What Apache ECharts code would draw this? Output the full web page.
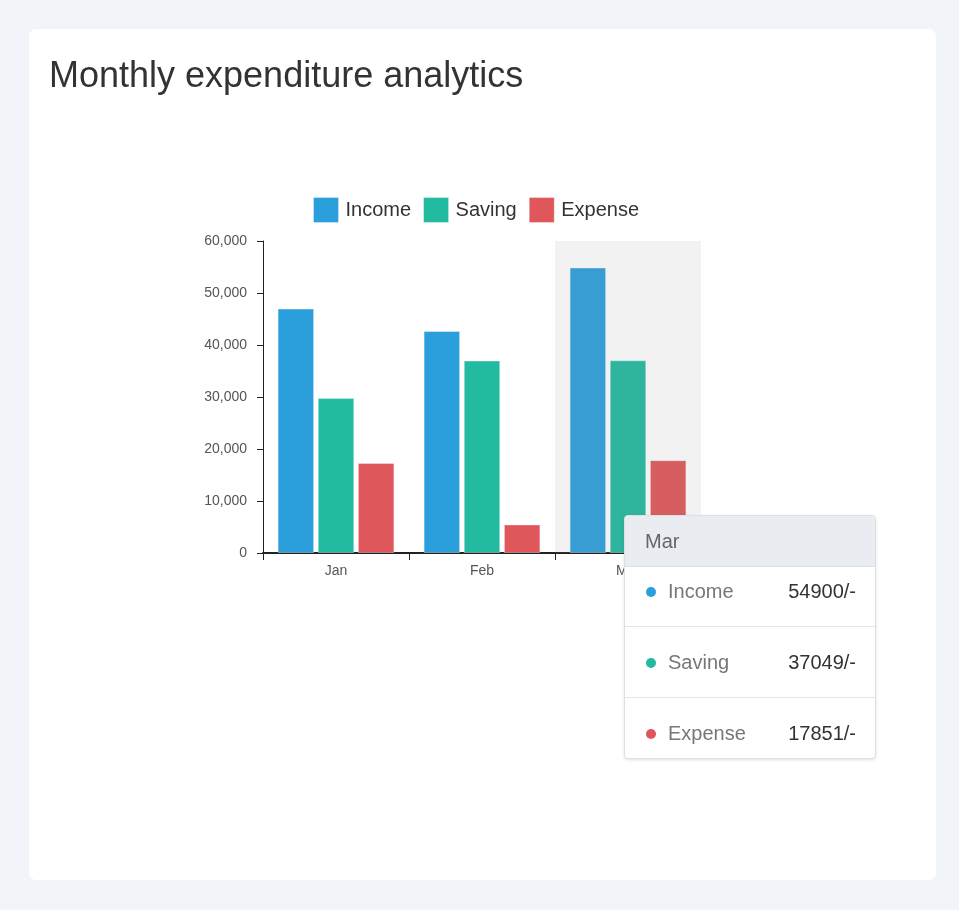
<!DOCTYPE html>
<html>
<head>
<meta charset="utf-8">
<script src="https://cdn.jsdelivr.net/npm/echarts@6/dist/echarts.min.js"></script>
<style>
  html, body { margin: 0; padding: 0; }
  body { width: 959px; height: 910px; background: #f1f4f9; font-family: 'Liberation Sans', Arial, sans-serif; }
  .card { position: absolute; left: 29px; top: 29px; width: 907px; height: 851px; background: #fff; border-radius: 7px; }
  .card h2 { position: absolute; left: 20px; top: 24px; margin: 0; font-size: 36px; font-weight: normal; color: #333; line-height: 44px; white-space: nowrap; }
  #chart { position: absolute; left: 0; top: 0; width: 907px; height: 851px; }
</style>
</head>
<body>
<div class="card">
  <div id="chart"></div>
  <h2>Monthly expenditure analytics</h2>
</div>
<script>
var months = ['Jan', 'Feb', 'Mar'];
var seriesNames = ['Income', 'Saving', 'Expense'];
var income = [47000, 42700, 54900];
var saving = [29800, 37000, 37049];
var expense = [17300, 5500, 17851];
var yTicks = [0, 10000, 20000, 30000, 40000, 50000, 60000];

var colors = ['#2b9fdb', '#22baa0', '#e0575b'];
var values = [income, saving, expense];

function makeSeries(i) {
    return {
        name: seriesNames[i],
        type: 'bar',
        data: values[i],
        barCategoryGap: '20%',
        barGap: '10%',
        itemStyle: {
            color: colors[i],
            borderColor: 'rgba(255,255,255,0.35)',
            borderWidth: 1
        },
        // the hover shadow sits over the bars, keep their own colour underneath
        emphasis: {
            itemStyle: { color: colors[i], borderColor: 'rgba(255,255,255,0.35)', borderWidth: 1 }
        }
    };
}

function tipHtml(params) {
    var html = '<div style="background:#e9ecf1;height:50px;line-height:50px;padding:0 20px;font-size:20px;color:#666;border-bottom:1px solid #dcdfe4;">'
        + params[0].axisValue + '</div>';
    for (var k = 0; k < params.length; k++) {
        var p = params[k];
        var pad = (k === 0 ? '14px' : '25px') + ' 19px ' + (k === params.length - 1 ? '15px' : '25px') + ' 21px';
        html += '<div style="padding:' + pad + ';line-height:20px;font-size:20px;'
            + (k < params.length - 1 ? 'border-bottom:1px solid #e3e5e9;' : '') + '">'
            + '<span style="display:inline-block;width:10px;height:10px;border-radius:5px;background:' + colors[p.seriesIndex] + ';margin-right:12px;vertical-align:1px;"></span>'
            + '<span style="color:#777;">' + p.seriesName + '</span>'
            + '<span style="float:right;color:#333;">' + p.value + '/-</span></div>';
    }
    return html;
}

var chart = echarts.init(document.getElementById('chart'));
var option = {
    animation: false,
    textStyle: { fontFamily: 'Liberation Sans, Arial, sans-serif' },
    legend: {
        data: seriesNames,
        icon: 'rect',
        left: 279,
        top: 163,
        itemWidth: 25,
        itemHeight: 25,
        itemGap: 12,
        itemStyle: { borderColor: 'rgba(255,255,255,0.35)', borderWidth: 1 },
        textStyle: { fontSize: 20, color: '#333', padding: [0, 0, 0, 2] }
    },
    tooltip: {
        trigger: 'axis',
        alwaysShowContent: true,
        axisPointer: { type: 'shadow', shadowStyle: { color: 'rgba(150,150,150,0.12)' } },
        position: function () { return [595, 486]; },
        padding: 0,
        borderWidth: 1,
        borderColor: '#dcdfe4',
        backgroundColor: '#fff',
        extraCssText: 'width:250px;border-radius:4px;box-shadow:0 1px 3px rgba(0,0,0,0.12);overflow:hidden;',
        formatter: tipHtml
    },
    grid: { left: 234, top: 212, width: 438, height: 312, containLabel: false },
    xAxis: {
        type: 'category',
        data: months,
        axisLine: { lineStyle: { color: '#222', width: 2 } },
        axisTick: { show: true, length: 7, lineStyle: { color: '#222', width: 1 } },
        axisLabel: { fontSize: 14, color: '#555', margin: 11 }
    },
    yAxis: {
        type: 'value',
        min: yTicks[0],
        max: yTicks[yTicks.length - 1],
        interval: yTicks[1] - yTicks[0],
        splitLine: { show: false },
        axisLine: { show: true, lineStyle: { color: '#222' } },
        axisTick: { show: true, length: 6, lineStyle: { color: '#222' } },
        axisLabel: {
            fontSize: 14, color: '#555', margin: 16,
            formatter: function (v) { return v.toLocaleString('en-US'); }
        }
    },
    series: [makeSeries(0), makeSeries(1), makeSeries(2)]
};
chart.setOption(option);
chart.dispatchAction({ type: 'showTip', seriesIndex: 0, dataIndex: 2 });
</script>
</body>
</html>
